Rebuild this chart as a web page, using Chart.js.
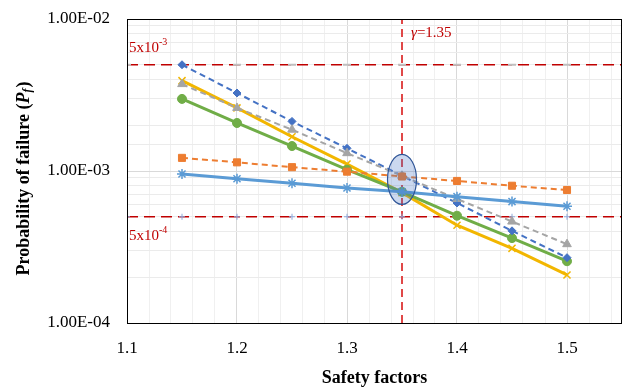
<!DOCTYPE html>
<html>
<head>
<meta charset="utf-8">
<script src="https://cdn.jsdelivr.net/npm/chart.js@4"></script>
<style>
  html, body { margin: 0; padding: 0; background: #fff; }
  #wrap { width: 629px; height: 389px; position: relative; }
</style>
</head>
<body>
<div id="wrap"><canvas id="chart"></canvas></div>
<script>
// safety factor vs probability of failure
const safetyFactors = [1.15, 1.2, 1.25, 1.3, 1.35, 1.4, 1.45, 1.5];

const seriesBlueDash   = [5.0e-3, 3.26e-3, 2.12e-3, 1.41e-3, 9.3e-4, 6.16e-4, 4.04e-4, 2.69e-4];
const seriesOrangeDash = [1.22e-3, 1.14e-3, 1.06e-3, 9.9e-4, 9.2e-4, 8.6e-4, 8.0e-4, 7.5e-4];
const seriesGrayDash   = [3.73e-3, 2.6e-3, 1.87e-3, 1.31e-3, 9.3e-4, 6.55e-4, 4.65e-4, 3.3e-4];
const seriesYellow     = [3.93e-3, 2.6e-3, 1.68e-3, 1.11e-3, 7.2e-4, 4.4e-4, 3.1e-4, 2.07e-4];
const seriesGreen      = [2.98e-3, 2.07e-3, 1.46e-3, 1.02e-3, 7.3e-4, 5.08e-4, 3.62e-4, 2.55e-4];
const seriesBlueSolid  = [9.55e-4, 8.9e-4, 8.3e-4, 7.73e-4, 7.3e-4, 6.78e-4, 6.29e-4, 5.86e-4];

// limit lines
const limitX = [1.1, 1.15, 1.2, 1.25, 1.3, 1.35, 1.4, 1.45, 1.5, 1.55];
const upperLimit = 5e-3;
const lowerLimit = 5e-4;
const gamma = 1.35;
const ellipseCenter = [1.35, 8.8e-4];

const yTickLabels = { '0.01': '1.00E-02', '0.001': '1.00E-03', '0.0001': '1.00E-04' };

const FONT = "'Liberation Serif', 'Times New Roman', serif";

function toPoints(xs, ys) {
    return xs.map((x, i) => ({ x: x, y: ys[i] }));
}

function series(values, color, style, dashed, radius) {
    return {
        data: toPoints(safetyFactors, values),
        borderColor: color,
        backgroundColor: color,
        borderWidth: dashed ? 2 : 3,
        borderDash: dashed ? [6, 4] : [],
        pointStyle: style,
        pointRadius: radius,
        pointBorderColor: color,
        pointBackgroundColor: color,
        pointBorderWidth: (style === 'star' || style === 'crossRot') ? 1.5 : 1,
        tension: 0
    };
}

const datasets = [
    series(seriesBlueSolid, '#5B9BD5', 'star', false, 5),
    series(seriesOrangeDash, '#ED7D31', 'rect', true, 5),
    series(seriesGrayDash, '#A5A5A5', 'triangle', true, 5),
    series(seriesBlueDash, '#4472C4', 'rectRot', true, 4),
    series(seriesGreen, '#70AD47', 'circle', false, 4.5),
    series(seriesYellow, '#F2B600', 'crossRot', false, 5),
    {
        data: limitX.map(x => ({ x: x, y: upperLimit })),
        borderColor: '#C00000',
        borderWidth: 1.5,
        borderDash: [11, 6],
        pointStyle: 'line',
        pointRadius: ctx => ctx.dataIndex === limitX.length - 1 ? 0 : 4,
        pointBorderColor: '#BFBFBF',
        pointBorderWidth: 2
    },
    {
        data: limitX.map(x => ({ x: x, y: lowerLimit })),
        borderColor: '#C00000',
        borderWidth: 1.5,
        borderDash: [11, 6],
        pointStyle: 'cross',
        pointRadius: ctx => ctx.dataIndex === limitX.length - 1 ? 0 : 3,
        pointBorderColor: '#8EA9DB',
        pointBorderWidth: 1
    },
    {
        data: [{ x: gamma, y: 1e-4 }, { x: gamma, y: 1e-2 }],
        borderColor: '#E04848',
        borderWidth: 2,
        borderDash: [8, 5],
        pointRadius: 0
    }
];

// extra drawing: ellipse, annotations, y title, frame
const decorations = {
    id: 'decorations',
    afterDatasetsDraw(chart) {
        const ctx = chart.ctx;
        const xs = chart.scales.x, ys = chart.scales.y;
        const area = chart.chartArea;

        // ellipse around the crossing
        const cx = xs.getPixelForValue(ellipseCenter[0]);
        const cy = ys.getPixelForValue(ellipseCenter[1]);
        ctx.save();
        ctx.beginPath();
        ctx.ellipse(cx, cy, 14.5, 25, 0, 0, Math.PI * 2);
        ctx.fillStyle = 'rgba(68, 114, 196, 0.28)';
        ctx.fill();
        ctx.lineWidth = 1.2;
        ctx.strokeStyle = '#2F5597';
        ctx.stroke();
        ctx.restore();

        // frame
        ctx.save();
        ctx.strokeStyle = '#000';
        ctx.lineWidth = 1;
        ctx.strokeRect(Math.round(area.left) + 0.5, Math.round(area.top) + 0.5,
            Math.round(area.right - area.left) - 1, Math.round(area.bottom - area.top));
        ctx.restore();

        // annotations
        ctx.save();
        ctx.fillStyle = '#C00000';
        ctx.textBaseline = 'alphabetic';
        ctx.textAlign = 'left';
        const drawPow = (x, y, base, sup) => {
            ctx.font = '15px ' + FONT;
            ctx.fillText(base, x, y);
            const w = ctx.measureText(base).width;
            ctx.font = '10px ' + FONT;
            ctx.fillText(sup, x + w, y - 7);
        };
        drawPow(area.left + 2, ys.getPixelForValue(upperLimit) - 13, '5x10', '-3');
        drawPow(area.left + 2, ys.getPixelForValue(lowerLimit) + 23, '5x10', '-4');

        const gx = xs.getPixelForValue(gamma) + 9;
        ctx.font = 'italic 15px ' + FONT;
        ctx.fillText('\u03B3', gx, area.top + 18);
        const gw = ctx.measureText('\u03B3').width;
        ctx.font = '15px ' + FONT;
        ctx.fillText('=1.35', gx + gw, area.top + 18);
        ctx.restore();

        // y axis title with italic P_f
        ctx.save();
        ctx.translate(24, (area.top + area.bottom) / 2 + 8);
        ctx.rotate(-Math.PI / 2);
        ctx.fillStyle = '#000';
        ctx.textBaseline = 'middle';
        const parts = [
            { t: 'Probability of failure (', f: 'bold 18px ' + FONT, dy: 0 },
            { t: 'P', f: 'bold italic 18px ' + FONT, dy: 0 },
            { t: 'f', f: 'bold italic 12px ' + FONT, dy: 4 },
            { t: ')', f: 'bold 18px ' + FONT, dy: 0 }
        ];
        let total = 0;
        parts.forEach(p => { ctx.font = p.f; p.w = ctx.measureText(p.t).width; total += p.w; });
        let px = -total / 2;
        parts.forEach(p => {
            ctx.font = p.f;
            ctx.fillText(p.t, px, p.dy);
            px += p.w + (p.t === 'f' ? 1 : 0);
        });
        ctx.restore();
    }
};

const config = {
    type: 'line',
    data: { datasets: datasets },
    options: {
        responsive: false,
        animation: false,
        layout: { padding: { top: 19, right: 7, left: 0, bottom: 0 } },
        plugins: {
            legend: { display: false },
            tooltip: { enabled: false },
            title: { display: false }
        },
        scales: {
            x: {
                type: 'linear',
                min: 1.1,
                max: 1.55,
                afterBuildTicks: scale => {
                    const t = [];
                    for (let i = 0; i <= 22; i++) t.push({ value: Math.round((1.1 + i * 0.02) * 100) / 100 });
                    scale.ticks = t;
                },
                ticks: {
                    autoSkip: false,
                    maxRotation: 0,
                    padding: 15,
                    color: '#000',
                    font: { family: FONT, size: 17 },
                    callback: v => (Math.round(v * 100) % 10 === 0 && v < 1.55) ? v.toFixed(1) : ''
                },
                grid: {
                    drawTicks: false,
                    color: ctx => (ctx.tick && Math.round(ctx.tick.value * 100) % 10 === 0) ? '#D9D9D9' : '#F0F0F0',
                    lineWidth: 1
                },
                border: { display: false },
                title: {
                    display: true,
                    text: 'Safety factors',
                    color: '#000',
                    font: { family: FONT, size: 18, weight: 'bold' },
                    padding: { top: 6, bottom: 0 }
                },
                afterFit: scale => { scale.height = 66; scale.paddingLeft = 0; scale.paddingRight = 0; }
            },
            y: {
                type: 'logarithmic',
                min: 1e-4,
                max: 1e-2,
                ticks: {
                    autoSkip: false,
                    padding: 17,
                    color: '#000',
                    font: { family: FONT, size: 17 },
                    callback: v => yTickLabels[String(v)] || ''
                },
                grid: {
                    drawTicks: false,
                    color: ctx => (ctx.tick && yTickLabels[String(ctx.tick.value)]) ? '#D9D9D9' : '#EBEBEB',
                    lineWidth: 1
                },
                border: { display: false },
                afterFit: scale => { scale.width = 127; scale.paddingTop = 0; scale.paddingBottom = 0; }
            }
        }
    },
    plugins: [decorations]
};

const canvas = document.getElementById('chart');
canvas.width = 629;
canvas.height = 389;
new Chart(canvas, config);
</script>
</body>
</html>
